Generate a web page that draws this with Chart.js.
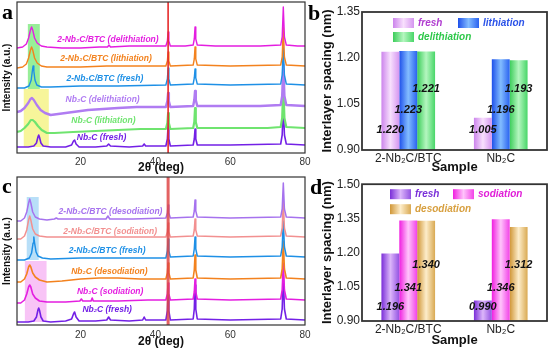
<!DOCTYPE html>
<html><head><meta charset="utf-8">
<script src="https://cdn.jsdelivr.net/npm/chart.js@4.4.1/dist/chart.umd.min.js"></script>
<style>
html,body{margin:0;padding:0;background:#fff;}
body{width:553px;height:350px;position:relative;overflow:hidden;}
canvas{position:absolute;}
</style></head>
<body>
<canvas id="ca" width="320" height="176" style="left:0;top:0"></canvas>
<canvas id="cc" width="320" height="175" style="left:0;top:175px"></canvas>
<canvas id="cb" width="253" height="175" style="left:300px;top:0"></canvas>
<canvas id="cd" width="253" height="175" style="left:300px;top:175px"></canvas>
<script>
// ---------------- DATA ----------------
const xrdTicks = [20, 40, 60, 80];
const refLine = [43.4];

// Panel a: Li-ion XRD (2θ, intensity a.u.)
const namesA = ['2-Nb₂C/BTC (delithiation)', '2-Nb₂C/BTC (lithiation)', '2-Nb₂C/BTC (fresh)',
                'Nb₂C (delithiation)', 'Nb₂C (lithiation)', 'Nb₂C (fresh)'];
const btcDelith = [[3,105],[4.5,106],[5.5,109],[6.1,115],[6.6,123],[6.9,126],[7.2,123],[7.7,115],[8.4,110],[9.5,107],[11,106],[15,105],[20,105],[25,106],[27.2,106],[27.6,108],[28,106],[33,107],[38,107],[42.8,107],[43.2,112],[43.4,121],[43.6,112],[44,107],[48,107],[50.1,108],[50.4,114],[50.6,126],[50.8,114],[51.2,108],[56,107],[62,107],[68,107],[73.5,108],[73.9,116],[74.2,146],[74.5,116],[75,108],[78,107],[80,107]];
const btcLith = [[3,85],[4.5,86],[5.5,89],[6.1,95],[6.6,103],[6.9,106],[7.2,103],[7.7,95],[8.4,90],[9.5,87],[11,86],[15,86],[20,86],[27,87],[33,87],[38,87],[42.8,87],[43.2,92],[43.4,101],[43.6,92],[44,87],[50.1,88],[50.4,94],[50.6,106],[50.8,94],[51.2,88],[60,87],[73.5,88],[73.9,96],[74.2,126],[74.5,96],[75,88],[80,87]];
const btcFreshA = [[3,65],[5,65],[6.2,67],[6.8,73],[7.1,82],[7.3,87],[7.5,82],[7.8,73],[8.3,68],[9.5,66],[12,66],[20,67],[30,67],[42.8,68],[43.2,74],[43.4,85],[43.6,74],[44,68],[50.1,69],[50.4,75],[50.6,84],[50.8,75],[51.2,69],[60,68],[73.5,69],[73.9,78],[74.2,106],[74.5,78],[75,69],[80,68]];
const nbDelith = [[3,41],[4,42],[5,45],[6,50],[6.6,54],[7.0,55],[7.5,53],[8.3,48],[9.3,43],[10.5,40],[12,38],[14,39],[18,41],[22,43],[26,44],[30,45],[35,46],[40,46],[42.8,46],[43.2,52],[43.4,60],[43.6,52],[44,46],[50.1,47],[50.4,53],[50.6,62],[50.8,53],[51.2,47],[60,47],[68,47],[73.5,48],[73.9,57],[74.2,88],[74.5,57],[75,48],[80,47]];
const nbLith = [[3,21],[4,22],[5,25],[6,29],[6.7,33],[7.2,33],[7.8,31],[8.6,27],[9.6,23],[11,20],[13,20],[18,21],[24,22],[30,23],[36,24],[42.8,24],[43.2,30],[43.4,40],[43.6,30],[44,24],[50.1,25],[50.4,31],[50.6,45],[50.8,31],[51.2,25],[60,25],[70,25],[73.5,26],[73.9,35],[74.2,68],[74.5,35],[75,26],[80,25]];
const nbFreshA = [[3,6],[6,6],[7.5,7],[8.2,10],[8.6,16],[8.8,18],[9.0,16],[9.4,10],[10,7],[12,6],[16,6],[17.6,8],[18.1,12],[18.4,13],[18.8,9],[19.6,6],[24,6],[27,7],[27.5,9],[28,7],[33,6],[36.6,7],[37,9],[37.4,7],[40,7],[42.8,7],[43.2,14],[43.4,28],[43.6,14],[44,7],[50.1,8],[50.4,14],[50.6,24],[50.8,14],[51.2,8],[60,8],[73.5,9],[73.9,18],[74.2,48],[74.5,18],[75,9],[80,8]];
// highlight ranges [2θ from, 2θ to, intensity from, intensity to]
const hlA = [[5.9, 9.1, 64, 129], [4.8, 11.5, 6, 64]];

// Panel c: Na-ion XRD
const namesC = ['2-Nb₂C/BTC (desodiation)', '2-Nb₂C/BTC (sodiation)', '2-Nb₂C/BTC (fresh)',
                'Nb₂C (desodiation)', 'Nb₂C (sodiation)', 'Nb₂C (fresh)'];
const btcDesod = [[3,104],[4,104],[5,107],[5.6,113],[6.1,122],[6.4,126],[6.7,122],[7.2,113],[7.9,108],[9,106],[11,105],[13,106],[13.5,107],[14,106],[20,106],[26.8,106],[27.3,109],[27.8,106],[34,106],[42.8,107],[43.2,112],[43.4,120],[43.6,112],[44,107],[50.1,108],[50.4,114],[50.6,125],[50.8,114],[51.2,108],[60,107],[73.5,108],[73.9,116],[74.2,142],[74.5,116],[75,108],[80,107]];
const btcSod = [[3,86],[4,86],[5,89],[5.6,95],[6.1,105],[6.4,109],[6.7,105],[7.2,96],[7.9,91],[9,89],[11,88],[16,88],[22,88],[30,88],[42.8,88],[43.2,93],[43.4,102],[43.6,93],[44,88],[50.1,89],[50.4,95],[50.6,106],[50.8,95],[51.2,89],[60,88],[73.5,89],[73.9,97],[74.2,124],[74.5,97],[75,89],[80,88]];
const btcFreshC = [[3,65],[5,65],[6.3,67],[6.9,72],[7.3,82],[7.5,88],[7.7,82],[8.1,73],[8.6,69],[9.8,67],[12,66],[20,67],[30,67],[42.8,67],[43.2,74],[43.4,86],[43.6,74],[44,68],[50.1,69],[50.4,76],[50.6,88],[50.8,76],[51.2,69],[60,68],[73.5,69],[73.9,78],[74.2,104],[74.5,78],[75,69],[80,68]];
const nbDesod = [[3,43],[4,43],[5,46],[5.6,51],[6.1,58],[6.4,60],[6.7,58],[7.2,52],[7.9,48],[9,45],[11,43],[15,44],[20,46],[25,47],[30,47],[36,46],[42.8,46],[43.2,52],[43.4,62],[43.6,52],[44,46],[50.1,47],[50.4,55],[50.6,70],[50.8,55],[51.2,47],[60,46],[73.5,47],[73.9,56],[74.2,84],[74.5,56],[75,47],[80,46]];
const nbSod = [[3,22],[4,22],[5,25],[5.6,31],[6.1,38],[6.4,40],[6.7,38],[7.2,31],[7.9,27],[9,24],[11,23],[16,23],[19.8,24],[20.2,26],[20.6,24],[22.8,24],[23.1,27],[23.4,24],[30,24],[38,25],[42.8,25],[43.2,31],[43.4,42],[43.6,31],[44,25],[50.1,26],[50.4,33],[50.6,46],[50.8,33],[51.2,26],[60,25],[73.5,26],[73.9,35],[74.2,62],[74.5,35],[75,26],[80,25]];
const nbFreshC = [[3,3],[6,3],[7.5,4],[8.2,8],[8.6,15],[8.8,17],[9.0,15],[9.4,8],[10,4],[12,3],[16,4],[17.6,6],[18.1,11],[18.4,13],[18.8,8],[19.6,4],[24,4],[27,5],[27.5,8],[28,5],[33,4],[36.6,5],[37,8],[37.4,5],[40,5],[42.8,5],[43.2,14],[43.4,30],[43.6,14],[44,5],[50.1,6],[50.4,16],[50.6,40],[50.8,16],[51.2,6],[60,5],[73.5,6],[73.9,16],[74.2,50],[74.5,16],[75,6],[80,5]];
const hlC = [[5.6, 8.8, 65, 128], [5.1, 10.9, 3, 64]];

// Panels b, d: interlayer spacing (nm)
const samples = ['2-Nb₂C/BTC', 'Nb₂C'];
const liFresh = [1.220, 1.005];
const liLith = [1.223, 1.196];
const liDelith = [1.221, 1.193];
const naFresh = [1.196, 0.990];
const naSod = [1.341, 1.346];
const naDesod = [1.340, 1.312];
const liTicks = [0.90, 1.05, 1.20, 1.35];
const naTicks = [0.90, 1.05, 1.20, 1.35, 1.50];

// ---------------- PLUGINS ----------------
const SANS = '"Liberation Sans", Arial, Helvetica, sans-serif';
Chart.defaults.font.family = SANS;
Chart.defaults.color = '#222';
Chart.defaults.animation = false;

const frame = {
  id: 'frame',
  afterDraw(chart, args, o) {
    const {ctx, chartArea: a} = chart;
    ctx.save(); ctx.strokeStyle = o.color; ctx.lineWidth = o.width;
    ctx.strokeRect(a.left, a.top, a.right - a.left, a.bottom - a.top);
    ctx.restore();
  }
};
const letter = {
  id: 'letter',
  afterDraw(chart, args, o) {
    const ctx = chart.ctx;
    ctx.save(); ctx.fillStyle = '#000';
    ctx.font = 'bold 22px "Liberation Serif", "Times New Roman", serif';
    ctx.textBaseline = 'alphabetic'; ctx.textAlign = 'left';
    ctx.fillText(o.text, o.x, o.y);
    ctx.restore();
  }
};
const xrdDeco = {
  id: 'xrdDeco',
  beforeDatasetsDraw(chart, args, o) {
    const {ctx, scales: {x, y}} = chart;
    ctx.save();
    o.boxes.forEach((b, i) => {
      const l = x.getPixelForValue(b[0]), r = x.getPixelForValue(b[1]);
      const bt = y.getPixelForValue(b[2]), t = y.getPixelForValue(b[3]);
      ctx.fillStyle = o.boxColors[i];
      ctx.fillRect(l, t, r - l, bt - t);
    });
    ctx.restore();
  },
  afterDatasetsDraw(chart, args, o) {
    const {ctx, scales: {x, y}} = chart;
    ctx.save();
    ctx.font = 'italic bold 8.5px ' + SANS;
    ctx.textAlign = 'center'; ctx.textBaseline = 'middle';
    o.names.forEach((n, i) => {
      ctx.fillStyle = o.colors[i];
      ctx.fillText(n, x.getPixelForValue(o.at[i][0]), y.getPixelForValue(o.at[i][1]));
    });
    ctx.restore();
  }
};
function makeGrad(ctx, l, w, stops) {
  const g = ctx.createLinearGradient(l, 0, l + w, 0);
  g.addColorStop(0, stops[0]); g.addColorStop(0.5, stops[1]); g.addColorStop(1, stops[2]);
  return g;
}
const CAT_PCT = 0.58;
function barGrad(stops) {
  return (c) => {
    const ch = c.chart;
    if (!ch.chartArea || c.type !== 'data') return stops[0];
    const xs = ch.scales.x;
    const n = ch.data.datasets.length;
    const catW = xs.width / ch.data.labels.length;
    const grp = catW * CAT_PCT, bw = grp / n;
    const left = xs.getPixelForValue(c.dataIndex) - grp / 2 + bw * c.datasetIndex;
    return makeGrad(ch.ctx, left, bw, stops);
  };
}
const barLegend = {
  id: 'barLegend',
  afterDatasetsDraw(chart, args, o) {
    const {ctx, chartArea: a} = chart;
    ctx.save();
    ctx.font = 'italic bold 10px ' + SANS;
    ctx.textBaseline = 'middle'; ctx.textAlign = 'left';
    chart.data.datasets.forEach((ds, i) => {
      const x = a.left + o.pos[i][0], y = a.top + o.pos[i][1];
      ctx.fillStyle = makeGrad(ctx, x, 21, o.grads[i]);
      ctx.fillRect(x, y - 5, 21, 10);
      ctx.fillStyle = o.colors[i];
      ctx.fillText(ds.label, x + 25, y);
    });
    ctx.restore();
  }
};
const barVals = {
  id: 'barVals',
  afterDatasetsDraw(chart, args, o) {
    const {ctx, chartArea: a} = chart;
    ctx.save();
    ctx.font = 'italic bold 11px ' + SANS;
    ctx.fillStyle = '#111'; ctx.textAlign = 'center'; ctx.textBaseline = 'middle';
    chart.data.datasets.forEach((ds, i) => {
      chart.getDatasetMeta(i).data.forEach((el, j) => {
        ctx.fillText(ds.data[j].toFixed(3), el.x, a.top + o.levels[i] * (a.bottom - a.top));
      });
    });
    ctx.restore();
  }
};

// ---------------- CHARTS ----------------
function makeXrd(id, cfg) {
  const datasets = [{
    data: [{x: refLine[0], y: 0}, {x: refLine[0], y: cfg.ymax}],
    borderColor: cfg.refColor, borderWidth: cfg.refWidth, pointRadius: 0
  }].concat(cfg.curves.map((c, i) => ({
    label: cfg.names[i],
    data: c.map(p => ({x: p[0], y: p[1]})),
    borderColor: cfg.colors[i], borderWidth: cfg.widths[i],
    pointRadius: 0, tension: 0, borderJoinStyle: 'round'
  })));
  new Chart(document.getElementById(id), {
    type: 'line',
    data: {datasets},
    options: {
      responsive: false, animation: false,
      layout: {padding: cfg.pad},
      plugins: {
        legend: {display: false}, tooltip: {enabled: false},
        frame: {width: 1.2, color: '#333'},
        letter: cfg.letter,
        xrdDeco: {boxes: cfg.boxes, boxColors: cfg.boxColors, names: cfg.names, colors: cfg.colors, at: cfg.labelAt}
      },
      scales: {
        x: {
          type: 'linear', min: 3, max: 80,
          grid: {display: false, drawTicks: false}, border: {display: false},
          afterBuildTicks: s => { s.ticks = xrdTicks.map(v => ({value: v})); },
          ticks: {padding: cfg.tickPad, font: {size: 10}, color: '#333'},
          afterFit: s => { s.height = cfg.xh; },
          title: {display: true, text: '2θ (deg)', font: {size: 12, weight: 'bold'}, padding: {top: 0, bottom: cfg.titlePad}, color: '#111'}
        },
        y: {
          min: 0, max: cfg.ymax,
          grid: {display: false, drawTicks: false}, border: {display: false},
          ticks: {display: false},
          afterFit: s => { s.width = 16; },
          title: {display: true, text: 'Intensity (a.u.)', font: {size: 10, weight: 'bold'}, padding: 0, color: '#111'}
        }
      }
    },
    plugins: [frame, letter, xrdDeco]
  });
}

makeXrd('ca', {
  curves: [btcDelith, btcLith, btcFreshA, nbDelith, nbLith, nbFreshA],
  names: namesA,
  colors: ['#e41ee0', '#f3821e', '#1e90e6', '#b07cf2', '#6fe46f', '#7320e6'],
  widths: [1.4, 1.4, 1.4, 2.4, 2.2, 1.6],
  refColor: '#e62a2a', refWidth: 1.6,
  boxes: hlA, boxColors: ['#98ee98', '#f7f59a'],
  labelAt: [[27.3, 113], [26.8, 94], [26.5, 74], [25.9, 53], [26.1, 32], [25.6, 15]],
  ymax: 151, xh: 23, pad: {left: 1, top: 2, right: 15, bottom: 0}, tickPad: 3, titlePad: 0.8,
  letter: {text: 'a', x: 2, y: 18.5}
});
makeXrd('cc', {
  curves: [btcDesod, btcSod, btcFreshC, nbDesod, nbSod, nbFreshC],
  names: namesC,
  colors: ['#a672ee', '#f29090', '#1e90e6', '#f3821e', '#e41ee0', '#7320e6'],
  widths: [1.5, 1.5, 1.5, 1.6, 1.6, 1.6],
  refColor: 'rgba(222,70,70,0.85)', refWidth: 3,
  boxes: hlC, boxColors: ['#b8dff8', '#f8c4f6'],
  labelAt: [[28, 113], [27.9, 93], [27.1, 74], [27.7, 53], [27.9, 33], [27.1, 15]],
  ymax: 148, xh: 25, pad: {left: 1, top: 2, right: 15, bottom: 0}, tickPad: 4, titlePad: 0.8,
  letter: {text: 'c', x: 2, y: 18}
});

function makeBar(id, cfg) {
  new Chart(document.getElementById(id), {
    type: 'bar',
    data: {
      labels: samples,
      datasets: cfg.series.map((d, i) => ({
        label: cfg.names[i], data: d, backgroundColor: barGrad(cfg.grads[i]), borderWidth: 0
      }))
    },
    options: {
      responsive: false, animation: false,
      layout: {padding: cfg.pad},
      datasets: {bar: {categoryPercentage: CAT_PCT, barPercentage: 1}},
      plugins: {
        legend: {display: false}, tooltip: {enabled: false},
        frame: {width: 1.8, color: '#333'},
        letter: cfg.letter,
        barLegend: {pos: cfg.legendPos, grads: cfg.grads, colors: cfg.textColors},
        barVals: {levels: cfg.levels}
      },
      scales: {
        x: {
          grid: {display: false, drawTicks: false}, border: {display: false},
          ticks: {font: {size: 12}, padding: 1, color: '#222'},
          afterFit: s => { s.height = cfg.xh; },
          title: {display: true, text: 'Sample', font: {size: 13, weight: 'bold'}, padding: {top: 0, bottom: cfg.titlePad}, color: '#111'}
        },
        y: {
          min: cfg.ticks[0], max: cfg.ticks[cfg.ticks.length - 1],
          grid: {display: false, drawTicks: false}, border: {display: false},
          afterBuildTicks: s => { s.ticks = cfg.ticks.map(v => ({value: v})); },
          ticks: {font: {size: 12}, padding: 2, color: '#222', callback: v => Number(v).toFixed(2)},
          afterFit: s => { s.width = 42; },
          title: {display: true, text: 'Interlayer spacing (nm)', font: {size: 13, weight: 'bold'}, padding: 0, color: '#111'}
        }
      }
    },
    plugins: [frame, letter, barLegend, barVals]
  });
}

makeBar('cb', {
  series: [liFresh, liLith, liDelith],
  names: ['fresh', 'lithiation', 'delithiation'],
  grads: [['#cc84ec', '#f8e0fd', '#d596f0'], ['#1e50ea', '#82bcff', '#2a62f0'], ['#3ccd5a', '#b4f6bf', '#48d668']],
  textColors: ['#b03cd0', '#2a52e8', '#2ec84a'],
  legendPos: [[31, 11], [96, 11], [31, 25]],
  levels: [0.855, 0.71, 0.56],
  ticks: liTicks,
  pad: {left: 20, top: 12, right: 6, bottom: 0}, xh: 25, titlePad: 0,
  letter: {text: 'b', x: 8, y: 20}
});
makeBar('cd', {
  series: [naFresh, naSod, naDesod],
  names: ['fresh', 'sodiation', 'desodiation'],
  grads: [['#7a2ed8', '#dcb6fa', '#9352e2'], ['#f01ee0', '#ffc4fb', '#f242e8'], ['#d09636', '#fdedca', '#d9a952']],
  textColors: ['#7a30d8', '#e01ed8', '#d8a040'],
  legendPos: [[28, 10], [91, 10], [28, 25]],
  levels: [0.90, 0.755, 0.59],
  ticks: naTicks,
  pad: {left: 20, top: 7, right: 6, bottom: 0}, xh: 29, titlePad: 2.2,
  letter: {text: 'd', x: 10, y: 19}
});
</script>
</body></html>
